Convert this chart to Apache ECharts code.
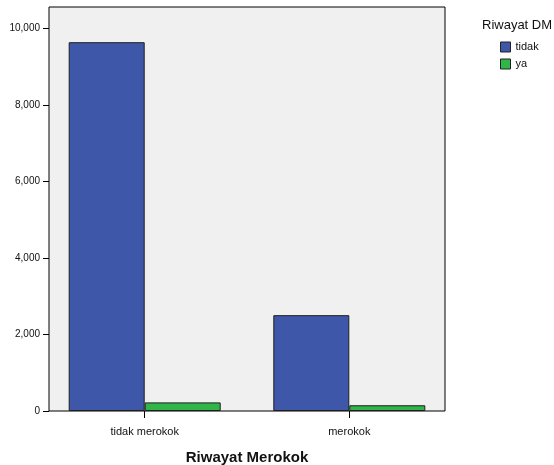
<!DOCTYPE html>
<html><head><meta charset="utf-8">
<script src="https://cdn.jsdelivr.net/npm/echarts@6/dist/echarts.min.js"></script>
<style>html,body{margin:0;padding:0;background:#fff}#c{width:554px;height:465px}</style>
</head><body><div id="c"></div>
<script>
const categories = ['tidak merokok', 'merokok'];
const seriesNames = ['tidak', 'ya'];
const tidakValues = [9640, 2505];
const yaValues = [225, 150];
const yTicks = [0, 2000, 4000, 6000, 8000, 10000];
const yMax = 10560;

const FONT = '"Liberation Sans", Arial, sans-serif';
const chart = echarts.init(document.getElementById('c'), null, {renderer: 'canvas'});
chart.setOption({
  animation: false,
  backgroundColor: '#fff',
  textStyle: {fontFamily: FONT},
  title: {
    text: 'Riwayat DM', left: 482, top: 19, padding: 0,
    textStyle: {fontSize: 13, fontWeight: 'normal', color: '#111', fontFamily: FONT}
  },
  legend: {
    data: seriesNames, orient: 'vertical', left: 500, top: 41, padding: 0,
    itemWidth: 10, itemHeight: 10, itemGap: 5, itemTextGap: 2,
    icon: 'rect',
    itemStyle: {borderColor: '#222', borderWidth: 1},
    textStyle: {fontSize: 11, color: '#111', lineHeight: 12, fontFamily: FONT}
  },
  grid: [
    {left: 49, top: 7, right: 109, bottom: 54, show: true, backgroundColor: '#f0f0f0', borderColor: '#000', borderWidth: 1, containLabel: false, outerBoundsMode: 'none'},
    {left: 42.4, top: 7, right: 102.4, bottom: 54, containLabel: false, outerBoundsMode: 'none'}
  ],
  xAxis: [
    {type: 'value', gridIndex: 0, show: false, min: 0, max: 1},
    {type: 'category', gridIndex: 1, data: categories,
      axisLine: {show: false},
      axisTick: {show: true, alignWithLabel: true, length: 7, lineStyle: {color: '#000'}},
      axisLabel: {margin: 15, fontSize: 11, color: '#111', fontFamily: FONT},
      name: 'Riwayat Merokok', nameLocation: 'middle', nameGap: 39,
      nameTextStyle: {fontSize: 15, fontWeight: 'bold', color: '#111', fontFamily: FONT}
    }
  ],
  yAxis: [
    {type: 'value', gridIndex: 0, min: 0, max: yMax,
      axisLine: {show: false},
      splitLine: {show: false},
      axisTick: {show: true, length: 6, lineStyle: {color: '#000'}, customValues: yTicks},
      axisLabel: {margin: 9, fontSize: 10, color: '#111', fontFamily: FONT, customValues: yTicks,
        formatter: v => v.toLocaleString('en-US')}
    },
    {type: 'value', gridIndex: 1, min: 0, max: yMax, show: false, splitLine: {show: false}}
  ],
  series: [
    {name: seriesNames[0], type: 'bar', xAxisIndex: 1, yAxisIndex: 1, data: tidakValues,
      barWidth: 76, barGap: 0,
      itemStyle: {color: '#3e57a9', borderColor: '#1e1e1e', borderWidth: 1}},
    {name: seriesNames[1], type: 'bar', xAxisIndex: 1, yAxisIndex: 1, data: yaValues,
      barWidth: 76, barGap: 0,
      itemStyle: {color: '#2fb548', borderColor: '#1e1e1e', borderWidth: 1}}
  ]
});
</script></body></html>
